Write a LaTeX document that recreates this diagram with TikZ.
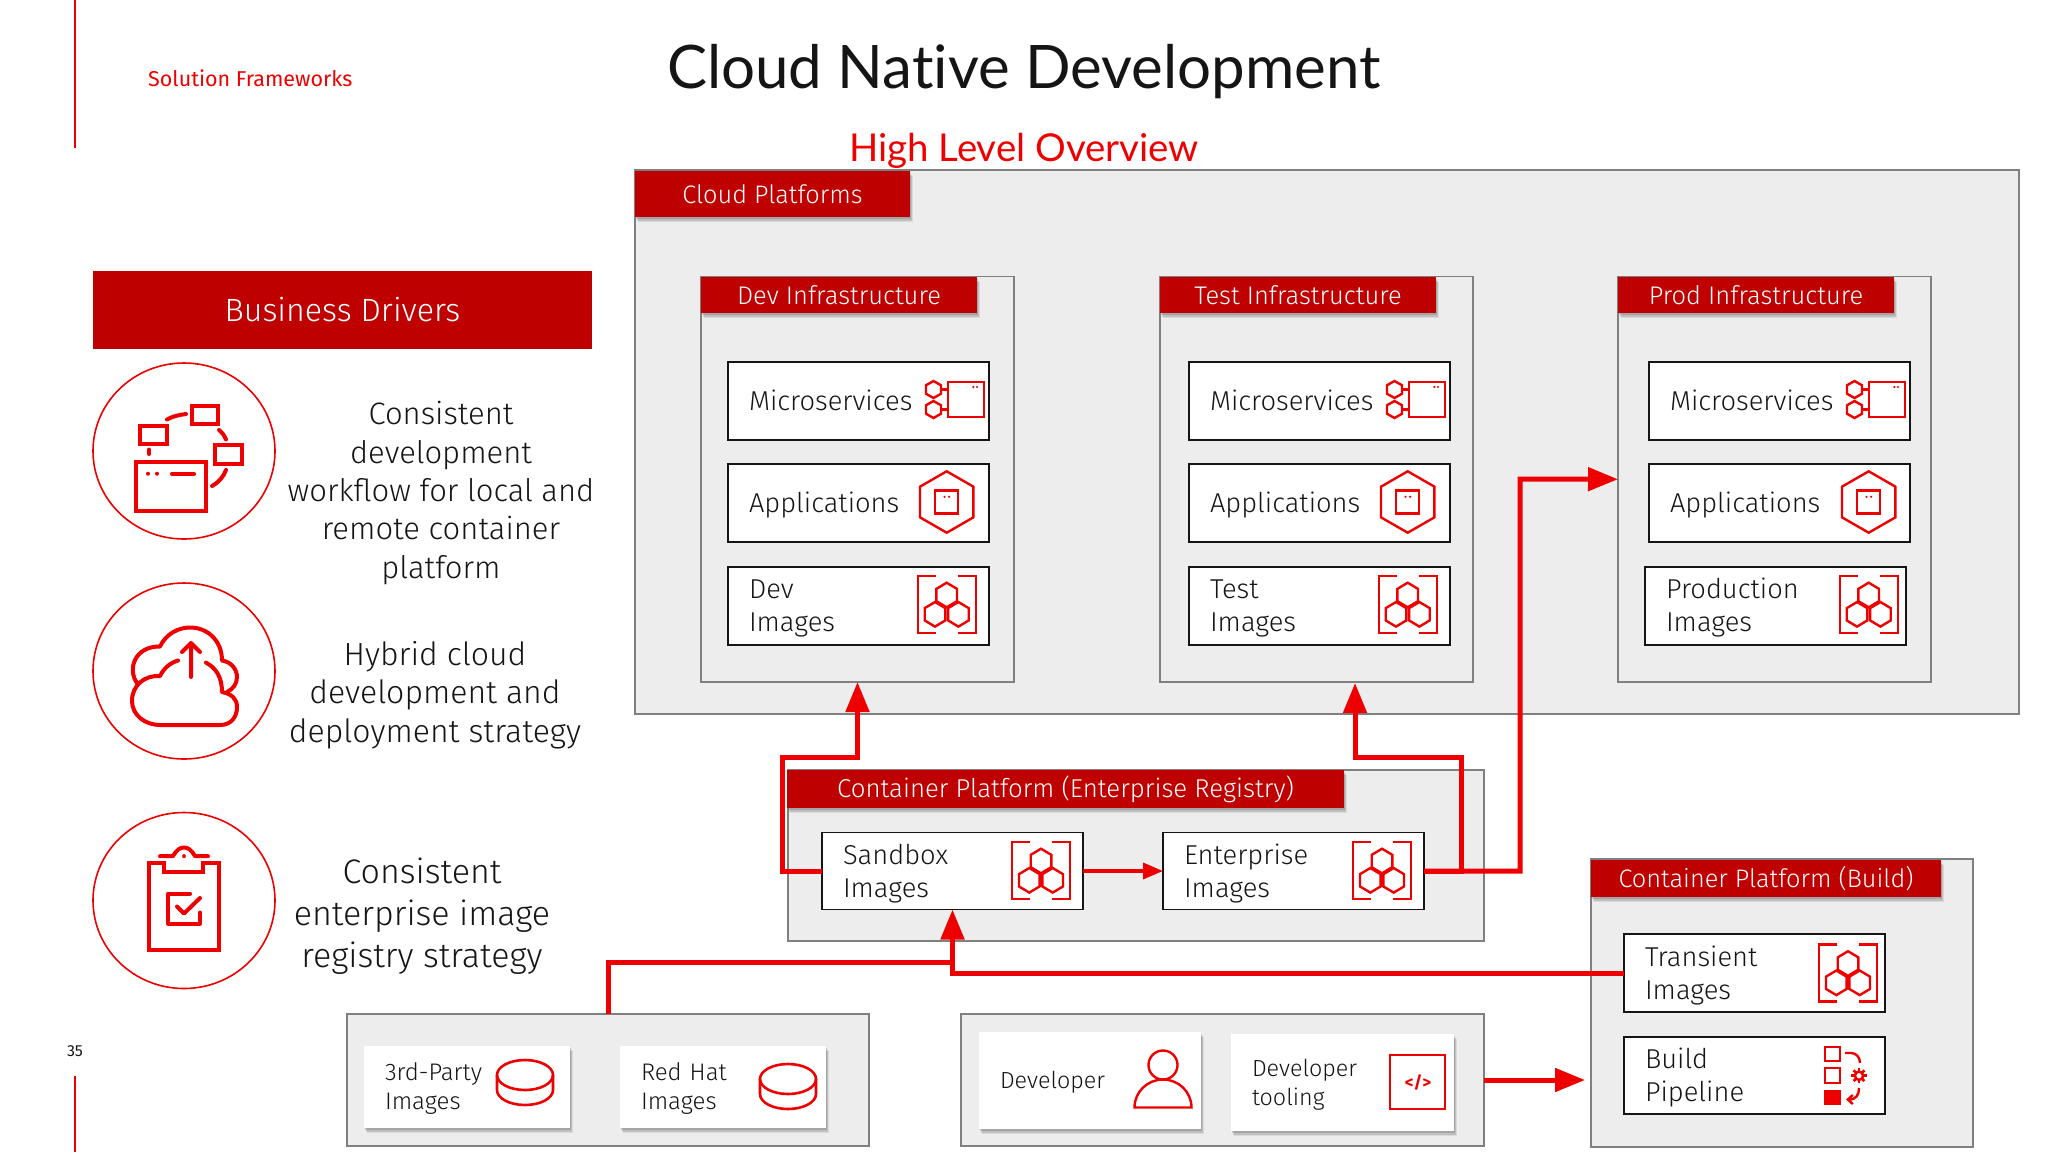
\documentclass[tikz,border=0pt]{standalone}
\usepackage{fontspec}
\setmainfont{Fira Sans}[UprightFont=* Light]
\newfontfamily\titlefont{Fira Sans}
\newfontfamily\headfont{Lato}[Ligatures=NoCommon]
\usetikzlibrary{arrows.meta,shadows,calc}
\definecolor{rhred}{HTML}{EE0000}
\definecolor{rhdark}{HTML}{BE0000}
\definecolor{panel}{HTML}{EDEDED}
\definecolor{ink}{HTML}{151515}
\definecolor{edge}{HTML}{808080}
\newcommand{\hexa}[4]{(#1,#2-#4) -- (#1+#3,#2-#4/2) -- (#1+#3,#2+#4/2) -- (#1,#2+#4) -- (#1-#3,#2+#4/2) -- (#1-#3,#2-#4/2) -- cycle}
\tikzset{
  softshadow/.style={
    general shadow={shadow xshift=2.5pt,shadow yshift=-5pt,fill=black,opacity=.08},
    general shadow={shadow xshift=1.5pt,shadow yshift=-3.5pt,fill=black,opacity=.12},
    general shadow={shadow xshift=1pt,shadow yshift=-2pt,fill=black,opacity=.14}},
  panelbox/.style={draw=edge,line width=1.6pt,fill=panel,anchor=north west,inner sep=0pt,outer sep=0pt},
  ibox/.style={draw=ink,line width=1.8pt,fill=white,anchor=north west,outer sep=0pt,inner xsep=21pt,inner ysep=0pt,minimum width=261pt,minimum height=78pt,text width=219pt,align=left,text=ink,font=\fontsize{27.3}{33}\selectfont,
    execute at begin node={\rule{0pt}{26pt}},execute at end node={\rule[-7pt]{0pt}{0pt}}},
  card/.style={fill=white,softshadow,anchor=north west,outer sep=0pt,inner xsep=21pt,inner ysep=0pt,align=left,text=ink,font=\fontsize{24}{29}\selectfont,
    execute at begin node={\rule{0pt}{23pt}},execute at end node={\rule[-7pt]{0pt}{0pt}}},
  hdr/.style={fill=rhdark,softshadow,anchor=north west,inner sep=0pt,outer sep=0pt,text=white},
  big/.style={fill=rhdark,anchor=north west,inner sep=0pt,outer sep=0pt,text=white},
  lead/.style={align=center,text=ink,font=\fontsize{31}{38.3}\selectfont},
  flow/.style={draw=rhred,line width=5pt,-{Triangle[length=30pt,width=23pt]}},
  flowplain/.style={draw=rhred,line width=5pt},
  thinflow/.style={draw=rhred,line width=3.5pt,-{Triangle[length=20pt,width=16pt]}},
  ic/.style={draw=rhred,line width=2.4pt,line join=miter},
  icb/.style={draw=rhred,line width=4pt,line cap=round,line join=round},
  pics/imgicon/.style={code={
    \draw[ic] (-11,-28.5) -- (-29,-28.5) -- (-29,28.5) -- (-11,28.5);
    \draw[ic] (11,-28.5) -- (29,-28.5) -- (29,28.5) -- (11,28.5);
    \draw[ic] \hexa{0}{-9.5}{10.3}{12.3};
    \draw[ic] \hexa{-11.7}{9.8}{10.3}{12.3};
    \draw[ic] \hexa{11.7}{9.8}{10.3}{12.3};
  }},
  pics/appicon/.style={code={
    \draw[ic] \hexa{0}{0}{26.7}{30.7};
    \draw[ic] (-11.5,-11.5) rectangle (11.5,11.5);
    \fill[rhred] (-2.2,-5.2) circle (1.2) (2.4,-5.2) circle (1.2);
  }},
  pics/msicon/.style={code={
    \draw[ic] (-7.5,-17.5) rectangle (28.5,17.5);
    \draw[ic] \hexa{-22}{-10}{7.5}{8.5};
    \draw[ic] \hexa{-22}{10}{7.5}{8.5};
    \draw[ic] (-14.5,-10) -- (-7.5,-10) (-14.5,10) -- (-7.5,10);
    \fill[rhred] (17.8,-12.5) circle (1.2) (21.5,-12.5) circle (1.2);
  }},
  pics/disk/.style={code={
    \draw[draw=rhred,line width=2.6pt] (0,0) ellipse[x radius=28,y radius=15];
    \draw[draw=rhred,line width=2.6pt] (-28,0) -- (-28,15) arc[start angle=180,end angle=0,x radius=28,y radius=15] -- (28,0);
  }},
}
\begin{document}
\begin{tikzpicture}[x=1pt,y=-1pt]
\useasboundingbox (0,0) rectangle (2048,1152);
\fill[white] (0,0) rectangle (2048,1152);
% page furniture
\coordinate (ta) at (75,0); \coordinate (tb) at (75,148);
\coordinate (ba) at (75,1076); \coordinate (bb) at (75,1152);
\draw[rhred,line width=1.4pt] (ta) -- (tb) (ba) -- (bb);
\node[anchor=west,inner sep=0pt,text=rhred,font=\titlefont\fontsize{21.5}{26}\selectfont] (sf) at (148,78) {Solution Frameworks};
\node[inner sep=0pt,text=ink,font=\titlefont\fontsize{16}{20}\selectfont] (pg) at (75,1051) {35};
\node[inner sep=0pt,text=ink,font=\headfont\fontsize{60}{70}\selectfont] (title) at (1024,72) {Cloud Native Development};
\node[inner sep=0pt,text=rhred,font=\headfont\fontsize{38.4}{44}\selectfont] (sub) at (1024,151) {High Level Overview};

% business drivers
\node[big,minimum width=499pt,minimum height=78pt,font=\fontsize{32.2}{38}\selectfont] (bd) at (93,270.5) {Business Drivers};
\draw[rhred,line width=1.6pt,fill=white] (184,451) ellipse[x radius=91,y radius=88];
\draw[rhred,line width=1.6pt,fill=white] (184,671) ellipse[x radius=91,y radius=88];
\draw[rhred,line width=1.6pt,fill=white] (184,900.5) ellipse[x radius=91,y radius=88];
\node[lead] (l1) at (441,493) {Consistent\\development\\workflow for local and\\remote container\\platform};
\node[lead,font=\fontsize{32}{38.3}\selectfont] (l2) at (435,695) {Hybrid cloud\\development and\\deployment strategy};
\node[lead,font=\fontsize{34}{42}\selectfont] (l3) at (422,916.5) {Consistent\\enterprise image\\registry strategy};
% icon: workflow
\draw[icb,line cap=butt,line join=miter] (136,461.5) rectangle (206,510.5);
\draw[icb,line join=miter] (140,425.5) rectangle (167,443.6);
\draw[icb,line join=miter] (192,405.6) rectangle (218,423.8);
\draw[icb,line join=miter] (215,445) rectangle (242,463.5);
\fill[rhred] (148,473.7) circle (2) (157,473.7) circle (2);
\draw[icb] (172,473.7) -- (194,473.7);
\draw[icb] (149,449.5) -- (149,454);
\draw[icb] (167,419.5) .. controls (172,416.5) and (179,414.8) .. (186,414);
\draw[icb] (219,430) .. controls (222,432.5) and (224.5,435.5) .. (226,439.4);
\draw[icb] (226,470) .. controls (223.5,477) and (218.5,482.5) .. (212,486);
% icon: cloud
\begin{scope}[yshift=1pt]
\draw[icb] (160,726) -- (220,726) .. controls (232,726) and (237,717) .. (237,708) .. controls (237,700) and (232,695) .. (222,693) .. controls (222,678) and (216,669) .. (206,663.6);
\draw[icb] (178,661.5) .. controls (170,664) and (164,669) .. (160,677) .. controls (145,676) and (132,686) .. (132,702) .. controls (132,716) and (145,726) .. (160,726);
\draw[icb] (137,684) .. controls (127,670) and (135,647) .. (160,647.5) .. controls (166,635) and (178,628.5) .. (190,628.5) .. controls (208,628.5) and (222,642) .. (222,661.5) .. controls (232,663) and (237,671) .. (237,678) .. controls (237,685) and (233,690) .. (227,693);
\draw[icb] (191,678) -- (191,644) (182,653) -- (191,644) -- (200,653);
\end{scope}
% icon: clipboard
\begin{scope}[yshift=2.5pt]
\draw[icb,line join=miter] (164,865.4) -- (149,865.4) -- (149,952.5) -- (219,952.5) -- (219,865.4) -- (203,865.4) -- (203,874) -- (164,874) -- cycle;
\draw[icb] (160,858.6) -- (173,858.6) .. controls (177,852) and (180,850) .. (184,850) .. controls (188,850) and (191,852) .. (195,858.6) -- (208,858.6);
\fill[rhred] (184,858.6) circle (2);
\draw[icb] (190,896) -- (168,896) -- (168,926) -- (200,926) -- (200,915);
\draw[icb] (177,909) -- (184,916) -- (200,900.5);
\end{scope}

% cloud platforms
\node[panelbox,minimum width=1384pt,minimum height=544pt] (cloud) at (635,170) {};
\node[hdr,minimum width=275pt,minimum height=46pt,font=\fontsize{25.3}{30}\selectfont] (cloudh) at (635,171) {Cloud Platforms};
\foreach \nm/\lab/\xx in {dev/Dev/701,test/Test/1160,prod/Prod/1618}{
  \node[panelbox,minimum width=313pt,minimum height=405.5pt] (\nm) at (\xx,276.5) {};
  \node[hdr,minimum width=276pt,minimum height=36pt,font=\fontsize{25.5}{30}\selectfont] (\nm h) at (\xx,277) {\lab\ Infrastructure};
}
% dev
\node[ibox] (devm) at (728,361.7) {Microservices};
\node[ibox] (deva) at (728,463.7) {Applications};
\node[ibox] (devi) at (728,566.7) {Dev\\Images};
\pic at (955.5,399.5) {msicon};
\pic at (946.7,502) {appicon};
\pic at (946.7,604.5) {imgicon};
% test
\node[ibox] (testm) at (1189,361.7) {Microservices};
\node[ibox] (testa) at (1189,463.7) {Applications};
\node[ibox] (testi) at (1189,566.7) {Test\\Images};
\pic at (1416.5,399.5) {msicon};
\pic at (1407.7,502) {appicon};
\pic at (1407.7,604.5) {imgicon};
% prod
\node[ibox] (prodm) at (1649,361.7) {Microservices};
\node[ibox] (proda) at (1649,463.7) {Applications};
\node[ibox] (prodi) at (1645,566.7) {Production\\Images};
\pic at (1876.5,399.5) {msicon};
\pic at (1868.7,502) {appicon};
\pic at (1868.7,604.5) {imgicon};

% enterprise registry
\node[panelbox,minimum width=696pt,minimum height=171pt] (reg) at (788,770) {};
\node[hdr,minimum width=557pt,minimum height=38pt,font=\fontsize{25.8}{30}\selectfont,text depth=5pt] (regh) at (787,770) {Container Platform (Enterprise Registry)};
\node[ibox,minimum width=260pt,minimum height=77pt] (sand) at (822,832.5) {Sandbox\\Images};
\node[ibox,minimum width=261pt,minimum height=77pt] (ent) at (1163,832.5) {Enterprise\\Images};
\pic at (1041,870.5) {imgicon};
\pic at (1382,870.5) {imgicon};

% build
\node[panelbox,minimum width=382pt,minimum height=288pt] (bld) at (1591,859) {};
\node[hdr,minimum width=350pt,minimum height=37pt,font=\fontsize{25.3}{30}\selectfont] (bldh) at (1591,860) {Container Platform (Build)};
\node[ibox] (trans) at (1624,934) {Transient\\Images};
\node[ibox,minimum height=77pt] (pipe) at (1624,1037) {Build\\Pipeline};
\pic at (1848,973) {imgicon};
\draw[ic] (1825,1046.7) rectangle (1840,1061);
\draw[ic] (1825,1068) rectangle (1840,1082.7);
\fill[rhred] (1824,1090) rectangle (1841,1105);
\draw[ic] (1845,1053) -- (1851,1053) .. controls (1856,1053) and (1860,1057) .. (1860,1063);
\draw[ic,-{Straight Barb[length=5pt,width=9pt]}] (1859,1088) .. controls (1859,1095) and (1856,1099.5) .. (1846,1099.5);
\foreach \ang in {0,45,...,315}{ \draw[rhred,line width=2.6pt] (1859,1075.7) -- ++(\ang:7.6); }
\fill[rhred] (1859,1075.7) circle (5.5);
\fill[white] (1859,1075.7) circle (2.6);

% bottom groups
\node[panelbox,minimum width=522pt,minimum height=132pt] (g1) at (347,1014) {};
\node[card,minimum width=206pt,minimum height=82pt,text width=164pt] (third) at (364,1046) {3rd-Party\\Images};
\node[card,minimum width=206pt,minimum height=82pt,text width=164pt] (rh) at (620,1046) {Red Hat\\Images};
\pic at (525,1075) {disk};
\pic at (788,1079) {disk};
\node[panelbox,minimum width=523pt,minimum height=132pt] (g2) at (961,1014) {};
\node[card,minimum width=222pt,minimum height=97pt,text width=180pt,font=\fontsize{23.3}{29}\selectfont] (devr) at (979,1032) {Developer};
\node[card,minimum width=223pt,minimum height=97pt,text width=181pt,font=\fontsize{23.3}{29}\selectfont] (tool) at (1231,1034) {Developer\\tooling};
\draw[draw=rhred,line width=2.4pt] (1163,1065) ellipse[x radius=14.5,y radius=14.5];
\draw[draw=rhred,line width=2.4pt] (1134.5,1107.5) arc[start angle=180,end angle=360,x radius=28.5,y radius=28] -- cycle;
\draw[draw=rhred,line width=2.4pt] (1390,1055) rectangle (1445,1109);
\node[inner sep=0pt,text=rhred,font=\titlefont\bfseries\fontsize{17}{20}\selectfont] (cod) at (1418,1082.5) {</>};

% connectors
\coordinate (r1) at (782,757);
\coordinate (r2) at (1461,757);
\coordinate (r3) at (1520,479);
\coordinate (j) at (951,962);
\coordinate (t2) at (1355,683);
\coordinate (t7) at (1585,1080);
\draw[flow] (sand.west) -| (r1) -| (dev.south);
\draw[flow] (ent.east) -| (r2) -| (t2);
\draw[flow] (ent.east) -| (r3) -- (prod.west);
\draw[thinflow] (sand.east) -- (ent.west);
\draw[flow] (trans.west) -| (sand.south);
\draw[flowplain] (g1.north) |- (j);
\draw[flow] (g2.east) -- (t7);
\end{tikzpicture}
\end{document}
